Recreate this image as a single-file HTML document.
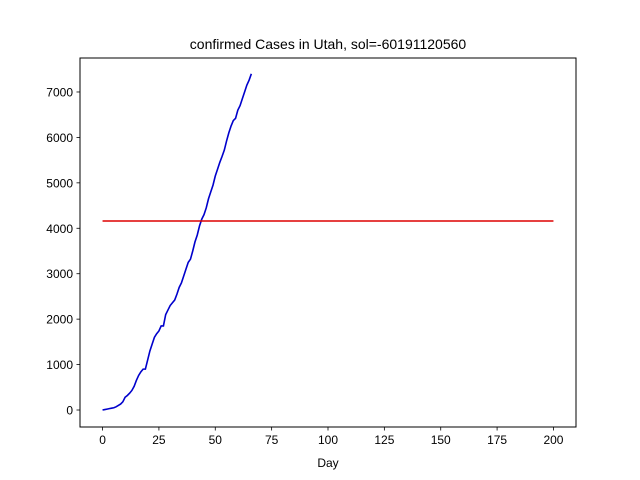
<!DOCTYPE html>
<html><head><meta charset="utf-8"><style>
body{margin:0;background:#fff}
svg{display:block;font-family:"Liberation Sans","DejaVu Sans",sans-serif}
</style></head><body>
<svg id="chart" width="640" height="480" xmlns="http://www.w3.org/2000/svg">
<rect width="640" height="480" fill="#fff"/>
<text x="328" y="49" text-anchor="middle" font-size="14">confirmed Cases in Utah, sol=-60191120560</text>
<text x="328" y="467" text-anchor="middle" font-size="12">Day</text>
<g id="plot"></g>
<rect x="80" y="58" width="496" height="369" fill="none" stroke="#000" stroke-width="1"/>
</svg>
<script>
const cases = [0,10,20,30,40,50,70,100,130,180,280,320,370,430,520,650,760,840,900,900,1100,1300,1450,1600,1680,1740,1850,1850,2100,2200,2300,2360,2420,2550,2700,2800,2950,3100,3250,3320,3500,3700,3850,4050,4200,4300,4450,4650,4800,4950,5150,5300,5450,5580,5720,5920,6100,6250,6370,6420,6600,6700,6850,7000,7150,7260,7400];
const solValue = 4160;
const solRange = [0, 200];
const xTicks = [0,25,50,75,100,125,150,175,200];
const yTicks = [0,1000,2000,3000,4000,5000,6000,7000];

const L=80,R=576,T=58,B=427;
const xMin=-10,xMax=210,yMin=-374,yMax=7748;
const xs=v=>L+(v-xMin)/(xMax-xMin)*(R-L);
const ys=v=>B-(v-yMin)/(yMax-yMin)*(B-T);
const NS="http://www.w3.org/2000/svg";
const g=document.getElementById('plot');
function mk(tag,attrs){const e=document.createElementNS(NS,tag);for(const k in attrs)e.setAttribute(k,attrs[k]);g.appendChild(e);return e;}

xTicks.forEach(t=>{
  const x=xs(t);
  const l=mk('line',{x1:x,x2:x,y1:B,y2:B+3.5,stroke:'#000','stroke-width':0.8});
  
  
  const tx=mk('text',{x:x,y:B+17,'text-anchor':'middle','font-size':12});
  tx.textContent=t;
  
  
});
yTicks.forEach(t=>{
  const y=ys(t);
  const l=mk('line',{x1:L-3.5,x2:L,y1:y,y2:y,stroke:'#000','stroke-width':0.8});
  
  
  const tx=mk('text',{x:L-7,y:y+4.5,'text-anchor':'end','font-size':12});
  tx.textContent=t;
  
  
});
const blue=mk('polyline',{points:cases.map((v,i)=>xs(i)+','+ys(v)).join(' '),fill:'none',stroke:'#0000cc','stroke-width':1.6});


const red=mk('line',{x1:xs(solRange[0]),x2:xs(solRange[1]),y1:ys(solValue),y2:ys(solValue),stroke:'#dd0000','stroke-width':1.6});


</script>
</body></html>
